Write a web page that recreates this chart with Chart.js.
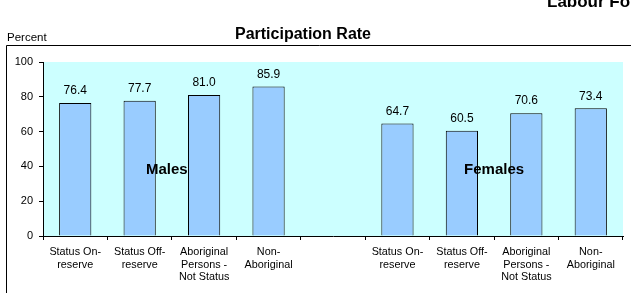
<!DOCTYPE html>
<html>
<head>
<meta charset="utf-8">
<script src="https://cdn.jsdelivr.net/npm/chart.js@4.4.1/dist/chart.umd.min.js"></script>
<style>
html,body{margin:0;padding:0;background:#fff;}
#wrap{width:631px;height:293px;position:relative;overflow:hidden;}
</style>
</head>
<body>
<div id="wrap"><canvas id="c" width="631" height="293"></canvas></div>
<script>
// ---- data ----
const categories = [
  ["Status On-","reserve"],
  ["Status Off-","reserve"],
  ["Aboriginal","Persons -","Not Status"],
  ["Non-","Aboriginal"],
  "",
  ["Status On-","reserve"],
  ["Status Off-","reserve"],
  ["Aboriginal","Persons -","Not Status"],
  ["Non-","Aboriginal"]
];
const participationRate = [76.4, 77.7, 81.0, 85.9, null, 64.7, 60.5, 70.6, 73.4];
const yTicks = [0, 20, 40, 60, 80, 100];
const groupLabels = ["Males", "Females"];
const groupLabelSlots = [1.42, 6.5];   // category-index position of each group label
const groupLabelValue = 38;             // value (y) at which group labels sit
const chartTitle = "Participation Rate";
const yAxisTitle = "Percent";
const pageHeader = "Labour Force Activity";

const FONT = "'Liberation Sans', Arial, sans-serif";

const decor = {
  id: 'decor',
  beforeDraw(chart) {
    const {ctx, chartArea: a} = chart;
    ctx.save();
    // outer box
    ctx.strokeStyle = '#000';
    ctx.lineWidth = 1;
    ctx.beginPath();
    ctx.moveTo(6.5, 300);
    ctx.lineTo(6.5, 45.5);
    ctx.lineTo(640, 45.5);
    ctx.stroke();
    // plot background
    ctx.fillStyle = '#CCFFFF';
    ctx.fillRect(a.left, a.top, a.right - a.left, a.bottom - a.top);
    // texts
    ctx.fillStyle = '#000';
    ctx.textBaseline = 'alphabetic';
    ctx.textAlign = 'left';
    ctx.font = "bold 17px " + FONT;
    ctx.fillText(pageHeader, 547, 7);
    ctx.textAlign = 'center';
    ctx.font = "bold 16px " + FONT;
    ctx.fillText(chartTitle, 303, 39);
    ctx.textAlign = 'left';
    ctx.font = "11.5px " + FONT;
    ctx.fillText(yAxisTitle, 7, 41);
    ctx.restore();
  },
  afterDatasetsDraw(chart) {
    const {ctx} = chart;
    const meta = chart.getDatasetMeta(0);
    const xs = chart.scales.x, ys = chart.scales.y;
    ctx.save();
    ctx.fillStyle = '#000';
    ctx.textAlign = 'center';
    ctx.textBaseline = 'bottom';
    ctx.font = "12px " + FONT;
    meta.data.forEach((bar, i) => {
      const v = participationRate[i];
      if (v === null || v === undefined) return;
      ctx.fillText(v.toFixed(1), bar.x, bar.y - 6);
    });
    ctx.font = "bold 15px " + FONT;
    ctx.textBaseline = 'middle';
    groupLabels.forEach((t, i) => {
      const slot = groupLabelSlots[i];
      const lo = Math.floor(slot), f = slot - lo;
      const x = xs.getPixelForValue(lo) + f * (xs.getPixelForValue(lo + 1) - xs.getPixelForValue(lo));
      ctx.fillText(t, x, ys.getPixelForValue(groupLabelValue));
    });
    ctx.restore();
  }
};

new Chart(document.getElementById('c'), {
  type: 'bar',
  data: {
    labels: categories,
    datasets: [{
      data: participationRate,
      backgroundColor: '#99CCFF',
      borderColor: '#000',
      borderWidth: 1,
      categoryPercentage: 1.0,
      barPercentage: 0.5
    }]
  },
  options: {
    responsive: false,
    animation: false,
    devicePixelRatio: 1,
    layout: { padding: { left: 6, right: 8, top: 62, bottom: 0 } },
    plugins: { legend: { display: false }, tooltip: { enabled: false }, title: { display: false } },
    scales: {
      x: {
        grid: { display: true, drawOnChartArea: false, tickLength: 4, color: '#000', offset: true },
        border: { color: '#000', width: 1 },
        ticks: {
          color: '#000', font: { family: FONT, size: 10.8, lineHeight: 1.16 },
          padding: 6, maxRotation: 0, minRotation: 0, autoSkip: false
        },
        afterFit(s) { s.height = 57; }
      },
      y: {
        min: 0, max: 100,
        afterBuildTicks(s) { s.ticks = yTicks.map(v => ({ value: v })); },
        grid: { display: true, drawOnChartArea: false, tickLength: 4, color: '#000' },
        border: { color: '#000', width: 1 },
        ticks: { color: '#000', font: { family: FONT, size: 11 }, padding: 6 },
        afterFit(s) { s.width = 37; }
      }
    }
  },
  plugins: [decor]
});
</script>
</body>
</html>
